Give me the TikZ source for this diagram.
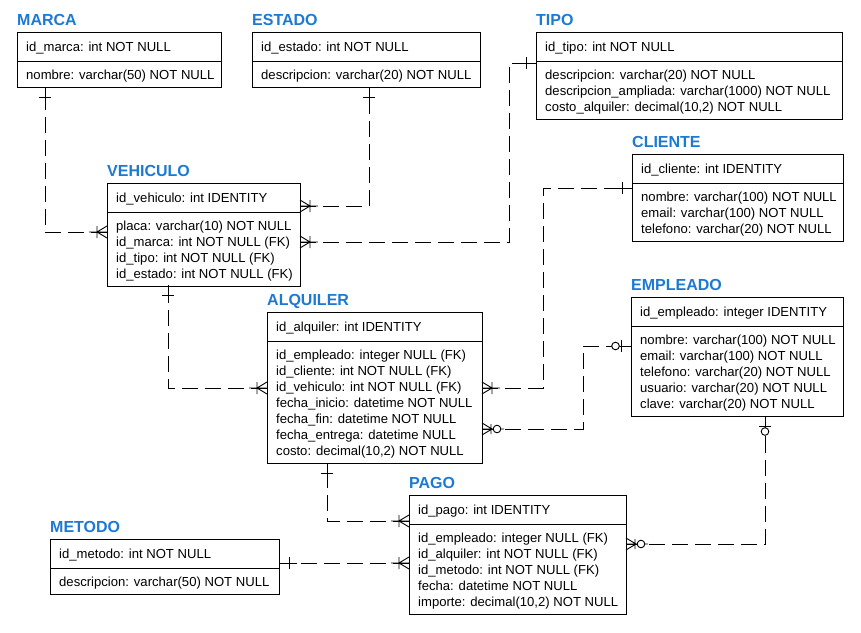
\documentclass[tikz,border=0pt]{standalone}
\usepackage{fontspec}
\setmainfont{Liberation Sans}
\definecolor{ttl}{RGB}{28,122,212}
\tikzset{
 tbox/.style={draw, line width=0.9pt, rectangle, inner sep=0pt, outer sep=0pt, anchor=north west},
 txt/.style={inner sep=0pt, anchor=base west, font=\fontsize{13.1}{16}\selectfont},
 ttlst/.style={inner sep=0pt, anchor=base west, text=ttl, font=\fontsize{16}{18}\selectfont\bfseries},
 rel/.style={line width=0.9pt, dash pattern=on 16pt off 7pt},
 sym/.style={line width=0.9pt},
 one/.pic={\draw[sym] (0,0) -- (18,0) (10,-6) -- (10,6);},
 many/.pic={\draw[sym] (0,0) -- (18,0) (10,-6) -- (10,6) (0,-6) -- (10,0) -- (0,6);},
 zone/.pic={\draw[sym] (0,0) -- (10,0) (10,-6) -- (10,6) (19.5,0) -- (24,0);
            \draw[sym, fill=white] (15.5,0) circle[radius=3.8];},
 zmany/.pic={\draw[sym] (0,0) -- (11,0) (9,-5) -- (9,5) (0,-6) -- (10,0) -- (0,6) (18.8,0) -- (22,0);
            \draw[sym, fill=white] (15,0) circle[radius=3.8];},
}
\newcommand\ertable[8]{%
 \node[tbox, minimum width=#4pt, minimum height={(39+16*#5)*1pt}] (#1) at (#2,#3) {};
 \draw[line width=0.9pt] (#2,#3+29) -- (#2+#4,#3+29);
 \node[ttlst] at (#2,#3-6.5) {#6};
 \node[txt] at (#2+9,#3+19) {#7};
 \foreach \rowtxt [count=\ri from 0] in {#8} {\node[txt] at (#2+9,#3+47+16*\ri) {\rowtxt};}
}
\begin{document}
\begin{tikzpicture}[x=1pt,y=-1pt]
\useasboundingbox[fill=white] (0,0) rectangle (861,632);

\ertable{marca}{17}{32}{204}{1}{MARCA}{id\_marca: int NOT NULL}{{nombre: varchar(50) NOT NULL}}
\ertable{estado}{252}{32}{228}{1}{ESTADO}{id\_estado: int NOT NULL}{{descripcion: varchar(20) NOT NULL}}
\ertable{tipo}{536}{32}{306}{3}{TIPO}{id\_tipo: int NOT NULL}{{descripcion: varchar(20) NOT NULL},{descripcion\_ampliada: varchar(1000) NOT NULL},{costo\_alquiler: decimal(10,2) NOT NULL}}
\ertable{cliente}{632}{154}{211}{3}{CLIENTE}{id\_cliente: int IDENTITY}{{nombre: varchar(100) NOT NULL},{email: varchar(100) NOT NULL},{telefono: varchar(20) NOT NULL}}
\ertable{vehiculo}{107}{183}{193}{4}{VEHICULO}{id\_vehiculo: int IDENTITY}{{placa: varchar(10) NOT NULL},{id\_marca: int NOT NULL (FK)},{id\_tipo: int NOT NULL (FK)},{id\_estado: int NOT NULL (FK)}}
\ertable{alquiler}{267}{312}{215}{7}{ALQUILER}{id\_alquiler: int IDENTITY}{{id\_empleado: integer NULL (FK)},{id\_cliente: int NOT NULL (FK)},{id\_vehiculo: int NOT NULL (FK)},{fecha\_inicio: datetime NOT NULL},{fecha\_fin: datetime NOT NULL},{fecha\_entrega: datetime NULL},{costo: decimal(10,2) NOT NULL}}
\ertable{empleado}{631}{297}{212}{5}{EMPLEADO}{id\_empleado: integer IDENTITY}{{nombre: varchar(100) NOT NULL},{email: varchar(100) NOT NULL},{telefono: varchar(20) NOT NULL},{usuario: varchar(20) NOT NULL},{clave: varchar(20) NOT NULL}}
\ertable{pago}{409}{495}{217}{5}{PAGO}{id\_pago: int IDENTITY}{{id\_empleado: integer NULL (FK)},{id\_alquiler: int NOT NULL (FK)},{id\_metodo: int NOT NULL (FK)},{fecha: datetime NOT NULL},{importe: decimal(10,2) NOT NULL}}
\ertable{metodo}{50}{539}{229}{1}{METODO}{id\_metodo: int NOT NULL}{{descripcion: varchar(50) NOT NULL}}

% connector end points on the table edges
\coordinate (m1) at (45,87);   \coordinate (v1) at (107,232);
\coordinate (e1) at (369,87);  \coordinate (v2) at (300,206);
\coordinate (t1) at (536,63);  \coordinate (v3) at (300,242);
\coordinate (c1) at (632,188); \coordinate (a1) at (482,388);
\coordinate (em1) at (631,346); \coordinate (a2) at (482,429);
\coordinate (v4) at (168,285); \coordinate (a3) at (267,388);
\coordinate (a4) at (327,463); \coordinate (p1) at (409,521);
\coordinate (mt1) at (279,563); \coordinate (p2) at (409,563);
\coordinate (em2) at (765,416); \coordinate (p3) at (626,544);

\draw[rel] (v1) -| (m1);
\draw[rel] (v2) -| (e1);
\draw[rel] (v3) -| (509,63) -- (t1);
\draw[rel] (a1) -| (543,188) -- (c1);
\draw[rel] (a2) -| (583,346) -- (em1);
\draw[rel] (a3) -| (v4);
\draw[rel] (p1) -| (a4);
\draw[rel] (p2) -- (mt1);
\draw[rel] (p3) -| (em2);

\pic[rotate=-90] at (m1) {one};   \pic[rotate=180] at (v1) {many};
\pic[rotate=-90] at (e1) {one};   \pic at (v2) {many};
\pic[rotate=180] at (t1) {one};   \pic at (v3) {many};
\pic[rotate=180] at (c1) {one};   \pic at (a1) {many};
\pic[rotate=180] at (em1) {zone}; \pic at (a2) {zmany};
\pic[rotate=-90] at (v4) {one};   \pic[rotate=180] at (a3) {many};
\pic[rotate=-90] at (a4) {one};   \pic[rotate=180] at (p1) {many};
\pic at (mt1) {one};              \pic[rotate=180] at (p2) {many};
\pic[rotate=-90] at (em2) {zone}; \pic at (p3) {zmany};
\end{tikzpicture}
\end{document}
